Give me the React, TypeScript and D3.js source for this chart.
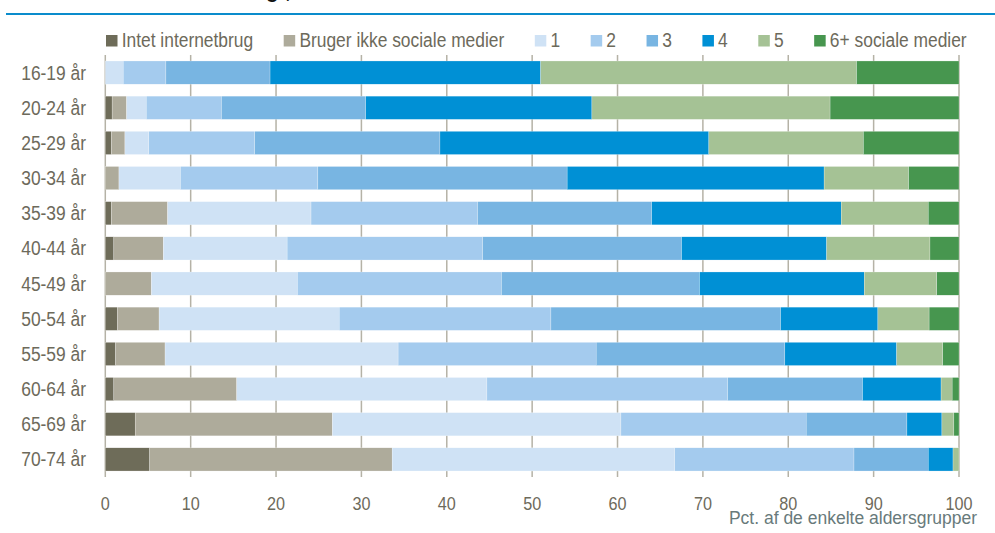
import React, { useEffect, useRef } from 'react';
import * as d3 from 'd3';

const ageGroups = ['16-19 år', '20-24 år', '25-29 år', '30-34 år', '35-39 år', '40-44 år', '45-49 år', '50-54 år', '55-59 år', '60-64 år', '65-69 år', '70-74 år'];
const seriesNames = ['Intet internetbrug', 'Bruger ikke sociale medier', '1', '2', '3', '4', '5', '6+ sociale medier'];
const seriesColors = ['#6e6c59', '#aeab9b', '#cfe2f5', '#a4cbee', '#78b5e2', '#0090d5', '#a5c295', '#47964f'];

// share of each age group, one array per series (same order as ageGroups)
const intet = [0, 0.8, 0.7, 0, 0.7, 1.0, 0, 1.4, 1.2, 1.0, 3.5, 5.2];
const brugerIkke = [0, 1.7, 1.6, 1.6, 6.6, 5.8, 5.4, 4.9, 5.8, 14.4, 23.1, 28.4];
const een = [2.1, 2.3, 2.8, 7.2, 16.8, 14.5, 17.1, 21.1, 27.3, 29.3, 33.8, 33.1];
const to = [5.0, 8.8, 12.4, 16.1, 19.5, 22.9, 23.9, 24.8, 23.2, 28.2, 21.7, 21.0];
const tre = [12.2, 16.9, 21.7, 29.2, 20.4, 23.3, 23.2, 26.9, 22.1, 15.8, 11.8, 8.7];
const fire = [31.7, 26.5, 31.5, 30.1, 22.2, 17.0, 19.3, 11.4, 13.1, 9.2, 4.1, 2.9];
const fem = [37.0, 27.9, 18.1, 9.9, 10.2, 12.1, 8.5, 6.0, 5.4, 1.3, 1.4, 0.7];
const seksPlus = [12.0, 15.1, 11.2, 5.9, 3.6, 3.4, 2.6, 3.5, 1.9, 0.8, 0.6, 0];

const xTicks = [0, 10, 20, 30, 40, 50, 60, 70, 80, 90, 100];
const xTitle = 'Pct. af de enkelte aldersgrupper';
const chartTitle = 'Antal sociale medier brugt, efter alder';

const W = 995;
const H = 533;
const FONT = '"Liberation Sans", Arial, sans-serif';
const SX = 0.87; // narrow font look
const textColor = '#6d6a5b';
const gridColor = '#b5b2a6';

export default function App() {
  const svgRef = useRef<SVGSVGElement>(null);

  useEffect(() => {
    if (!svgRef.current) return;
    const svg = d3.select(svgRef.current);
    svg.selectAll('*').remove();

    const values = [intet, brugerIkke, een, to, tre, fire, fem, seksPlus];
    const rows = ageGroups.map((g, i) => {
      const r: any = { group: g };
      seriesNames.forEach((s, j) => (r[s] = values[j][i]));
      return r;
    });
    const stacked = d3.stack().keys(seriesNames)(rows);

    const x = d3.scaleLinear().domain([0, 100]).range([105.3, 959]);
    const y = d3.scaleBand().domain(ageGroups).range([55, 477]).paddingInner(0.34).paddingOuter(0.17);
    const color = d3.scaleOrdinal<string, string>().domain(seriesNames).range(seriesColors);

    const label = (g: any, tx: number, ty: number, txt: string, anchor: string, size = 20, fill = textColor, sx = SX) =>
      g.append('text')
        .attr('transform', `translate(${tx},${ty}) scale(${sx},1)`)
        .attr('text-anchor', anchor)
        .style('font-family', FONT)
        .style('font-size', `${size}px`)
        .style('fill', fill)
        .text(txt);

    // title (cut off at the top in the original) and blue rule
    svg.append('text')
      .attr('x', 34).attr('y', -1.6)
      .style('font-family', FONT).style('font-weight', 'bold').style('font-size', '20px')
      .style('fill', '#111').text(chartTitle);
    svg.append('line')
      .attr('x1', 6).attr('x2', W).attr('y1', 14).attr('y2', 14)
      .attr('stroke', '#0a8ccc').attr('stroke-width', 2.2);

    // gridlines
    svg.append('g').selectAll('line').data(xTicks).join('line')
      .attr('x1', d => x(d)).attr('x2', d => x(d))
      .attr('y1', 55).attr('y2', 477)
      .attr('stroke', gridColor).attr('stroke-width', 1.5);

    // bars
    svg.append('g').selectAll('g').data(stacked).join('g')
      .attr('fill', d => color(d.key))
      .selectAll('rect').data(d => d).join('rect')
      .attr('x', d => x(d[0]))
      .attr('width', d => Math.max(0, x(d[1]) - x(d[0])))
      .attr('y', d => y((d.data as any).group)!)
      .attr('height', y.bandwidth())
      .attr('stroke', '#ffffff').attr('stroke-width', 0.4).attr('stroke-opacity', 0.6);

    // y labels
    const yl = svg.append('g');
    ageGroups.forEach(g => label(yl, 86, y(g)! + y.bandwidth() / 2 + 7, g, 'end'));

    // x tick labels
    const xl = svg.append('g');
    xTicks.forEach(t => label(xl, x(t), 509.5, String(t), 'middle', 18, textColor, 0.9));
    label(svg, 977, 523.5, xTitle, 'end', 17.5, '#687a7b', 1);

    // legend
    const lg = svg.append('g');
    let lx = 106;
    seriesNames.forEach(s => {
      lg.append('rect').attr('x', lx).attr('y', 35).attr('width', 11.5).attr('height', 11.5).attr('fill', color(s));
      const t = label(lg, lx + 15.7, 46.7, s, 'start');
      const w = (t.node() as SVGTextElement).getComputedTextLength() * SX;
      lx += 15.7 + w + 30.5;
    });
  }, []);

  return (
    <svg ref={svgRef} width={W} height={H} style={{ position: 'absolute', left: 0, top: 0, background: '#fff' }} />
  );
}
